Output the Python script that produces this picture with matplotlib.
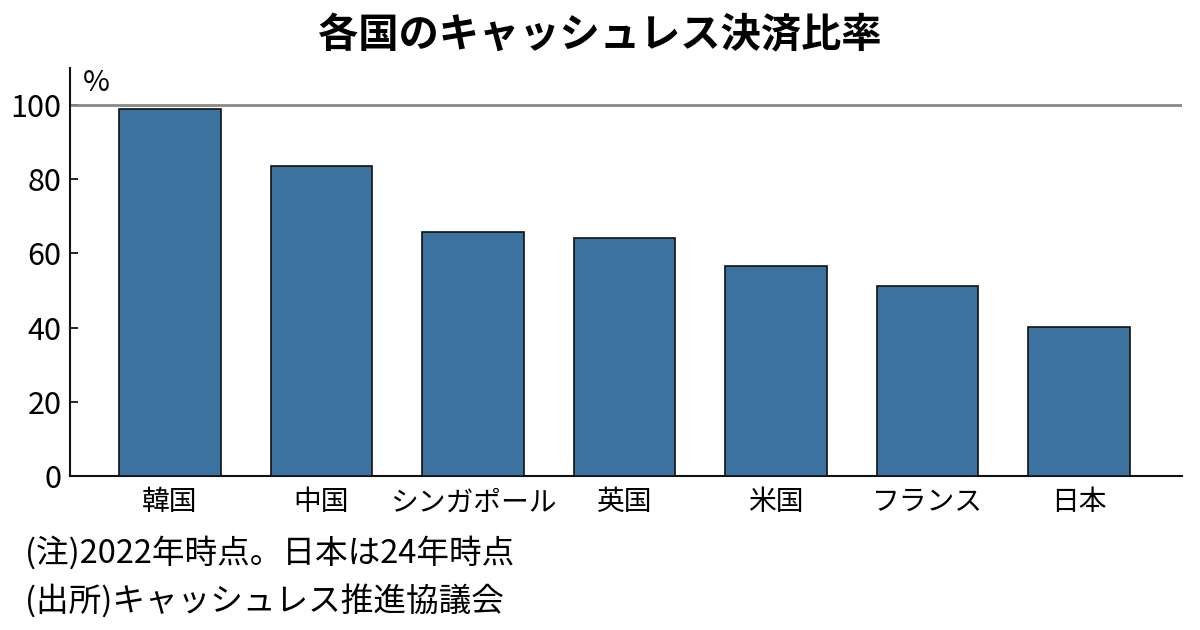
import matplotlib
matplotlib.use("Agg")
import matplotlib.pyplot as plt

plt.rcParams['font.family'] = ['Noto Sans CJK JP', 'DejaVu Sans']

countries = ["韓国", "中国", "シンガポール", "英国", "米国", "フランス", "日本"]
values = [99.0, 83.5, 65.8, 64.2, 56.5, 51.2, 40.1]
yticks = [0, 20, 40, 60, 80, 100]

title = "各国のキャッシュレス決済比率"
note1 = "(注)2022年時点。日本は24年時点"
note2 = "(出所)キャッシュレス推進協議会"

fig = plt.figure(figsize=(12, 6.3), dpi=100)
ax = fig.add_axes([0.0583, 0.2444, 0.9267, 0.6476])

x = list(range(len(countries)))
ax.bar(x, values, width=0.67, color="#3C72A0", edgecolor="#111111", linewidth=1.2, zorder=3)
ax.axhline(100, color="#888888", linewidth=2, zorder=2)

ax.set_xlim(-0.66, len(countries) - 1 + 0.68)
ax.set_ylim(0, 110)
ax.set_yticks(yticks)
ax.set_yticklabels([str(v) for v in yticks], fontsize=22)
ax.set_xticks(x)
ax.set_xticklabels(countries, fontsize=20)
ax.tick_params(axis='x', length=0, pad=8)
ax.tick_params(axis='y', direction='in', length=6, width=1.2, pad=6)

for s in ["top", "right"]:
    ax.spines[s].set_visible(False)
for s in ["left", "bottom"]:
    ax.spines[s].set_linewidth(1.5)
    ax.spines[s].set_color("#111111")

fig.text(0.069, 0.868, "%", fontsize=21, ha="left", va="center")
fig.text(0.5, 0.944, title, fontsize=29, fontweight="bold", ha="center", va="center")
fig.text(0.021, 0.122, note1, fontsize=23.5, ha="left", va="center")
fig.text(0.021, 0.045, note2, fontsize=23.5, ha="left", va="center")

fig.savefig("out.png", dpi=100)
